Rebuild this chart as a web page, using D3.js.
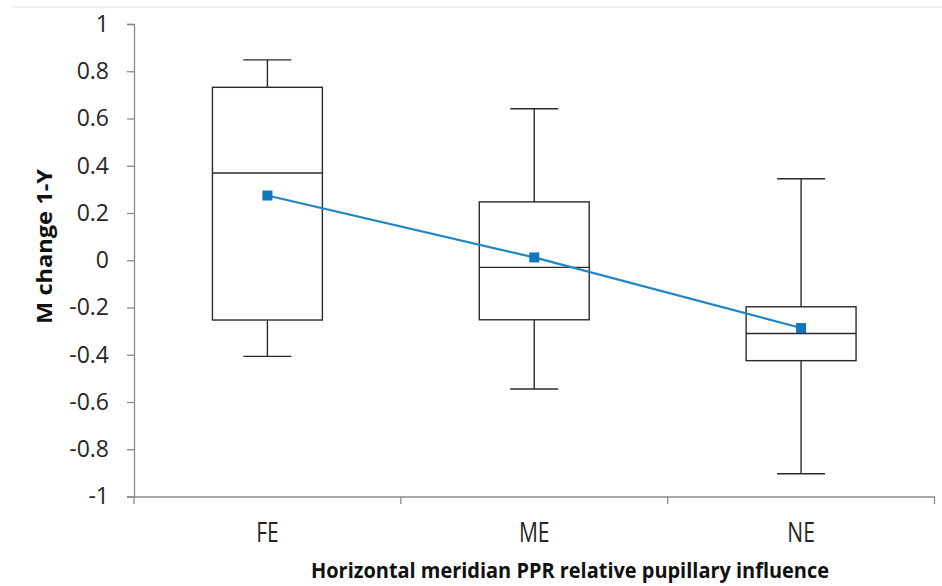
<!DOCTYPE html>
<html>
<head>
<meta charset="utf-8">
<script src="https://cdn.jsdelivr.net/npm/d3@7"></script>
<style>
  html, body { margin: 0; padding: 0; background: #fff; }
  svg { display: block; }
</style>
</head>
<body>
<svg id="chart" width="942" height="586"></svg>
<script>
const categories = ["FE", "ME", "NE"];
const whiskerHigh = [0.848, 0.641, 0.345];
const q3 = [0.732, 0.247, -0.197];
const median = [0.369, -0.030, -0.310];
const q1 = [-0.253, -0.252, -0.425];
const whiskerLow = [-0.407, -0.545, -0.904];
const means = [0.274, 0.012, -0.287];
const yTicks = [-1, -0.8, -0.6, -0.4, -0.2, 0, 0.2, 0.4, 0.6, 0.8, 1];
const xTitle = "Horizontal meridian PPR relative pupillary influence";
const yTitle = "M change 1-Y";

const svg = d3.select("#chart");
const x = d3.scaleBand().domain(categories).range([134, 934.5]).padding(0);
const y = d3.scaleLinear().domain([-1, 1]).range([496.5, 24]);

// faint top border
svg.append("line").attr("x1", 12).attr("x2", 942).attr("y1", 7).attr("y2", 7)
  .attr("stroke", "#ebebeb").attr("stroke-width", 1.5);

// Y axis
const yAxis = svg.append("g").attr("transform", "translate(134,0)")
  .call(d3.axisLeft(y).tickValues(yTicks).tickSize(7).tickPadding(18)
    .tickFormat(d => String(+d.toFixed(1))));
yAxis.select(".domain").attr("stroke", "#8a8a8a").attr("stroke-width", 1.3);
yAxis.selectAll(".tick line").attr("stroke", "#8a8a8a").attr("stroke-width", 1.3);
yAxis.selectAll(".tick text").attr("fill", "#262626")
  .style("font-family", "'Open Sans', sans-serif").style("font-size", "23px");

// X axis
const xAxis = svg.append("g").attr("transform", "translate(0,496.5)")
  .call(d3.axisBottom(x).tickSize(0).tickPadding(0));
xAxis.select(".domain").attr("stroke", "#8a8a8a").attr("stroke-width", 1.3);
xAxis.selectAll(".tick text").remove();
// category boundary ticks
const bounds = categories.map(c => x(c)).concat([x(categories[categories.length - 1]) + x.bandwidth()]);
svg.append("g").selectAll("line").data(bounds).join("line")
  .attr("x1", d => d).attr("x2", d => d).attr("y1", 496.5).attr("y2", 504)
  .attr("stroke", "#8a8a8a").attr("stroke-width", 1.3);
// category labels
svg.append("g").selectAll("text").data(categories).join("text")
  .attr("transform", d => `translate(${x(d) + x.bandwidth() / 2},542) scale(0.78,1)`)
  .attr("text-anchor", "middle")
  .attr("fill", "#262626")
  .style("font-family", "'Open Sans', sans-serif").style("font-size", "27px")
  .text(d => d);

// Titles
svg.append("text").attr("x", 570).attr("y", 578)
  .attr("text-anchor", "middle")
  .attr("textLength", 518).attr("lengthAdjust", "spacingAndGlyphs")
  .style("font-family", "'Open Sans', sans-serif").style("font-size", "22px").style("font-weight", "bold")
  .attr("fill", "#111").text(xTitle);
svg.append("text").attr("transform", "translate(52,246.5) rotate(-90)")
  .attr("text-anchor", "middle")
  .attr("textLength", 155).attr("lengthAdjust", "spacingAndGlyphs")
  .style("font-family", "'Open Sans', sans-serif").style("font-size", "22px").style("font-weight", "bold")
  .attr("fill", "#111").text(yTitle);

// Boxes
const boxW = x.bandwidth() * 0.412;
const capW = x.bandwidth() * 0.18;
const stroke = "#2b2b2b";
const g = svg.append("g");
categories.forEach((c, i) => {
  const cx = x(c) + x.bandwidth() / 2;
  g.append("line").attr("x1", cx).attr("x2", cx).attr("y1", y(whiskerHigh[i])).attr("y2", y(q3[i]))
    .attr("stroke", stroke).attr("stroke-width", 1.4);
  g.append("line").attr("x1", cx).attr("x2", cx).attr("y1", y(q1[i])).attr("y2", y(whiskerLow[i]))
    .attr("stroke", stroke).attr("stroke-width", 1.4);
  g.append("line").attr("x1", cx - capW / 2).attr("x2", cx + capW / 2).attr("y1", y(whiskerHigh[i])).attr("y2", y(whiskerHigh[i]))
    .attr("stroke", stroke).attr("stroke-width", 1.4);
  g.append("line").attr("x1", cx - capW / 2).attr("x2", cx + capW / 2).attr("y1", y(whiskerLow[i])).attr("y2", y(whiskerLow[i]))
    .attr("stroke", stroke).attr("stroke-width", 1.4);
  g.append("rect").attr("x", cx - boxW / 2).attr("width", boxW)
    .attr("y", y(q3[i])).attr("height", y(q1[i]) - y(q3[i]))
    .attr("fill", "none").attr("stroke", stroke).attr("stroke-width", 1.4);
  g.append("line").attr("x1", cx - boxW / 2).attr("x2", cx + boxW / 2).attr("y1", y(median[i])).attr("y2", y(median[i]))
    .attr("stroke", stroke).attr("stroke-width", 1.4);
});

// Mean line and markers
const line = d3.line().x((d, i) => x(categories[i]) + x.bandwidth() / 2).y(d => y(d));
svg.append("path").datum(means).attr("d", line)
  .attr("fill", "none").attr("stroke", "#1f86c6").attr("stroke-width", 2.2);
svg.append("g").selectAll("rect").data(means).join("rect")
  .attr("x", (d, i) => x(categories[i]) + x.bandwidth() / 2 - 5)
  .attr("y", d => y(d) - 5)
  .attr("width", 10).attr("height", 10)
  .attr("fill", "#0f77bd");
</script>
</body>
</html>
